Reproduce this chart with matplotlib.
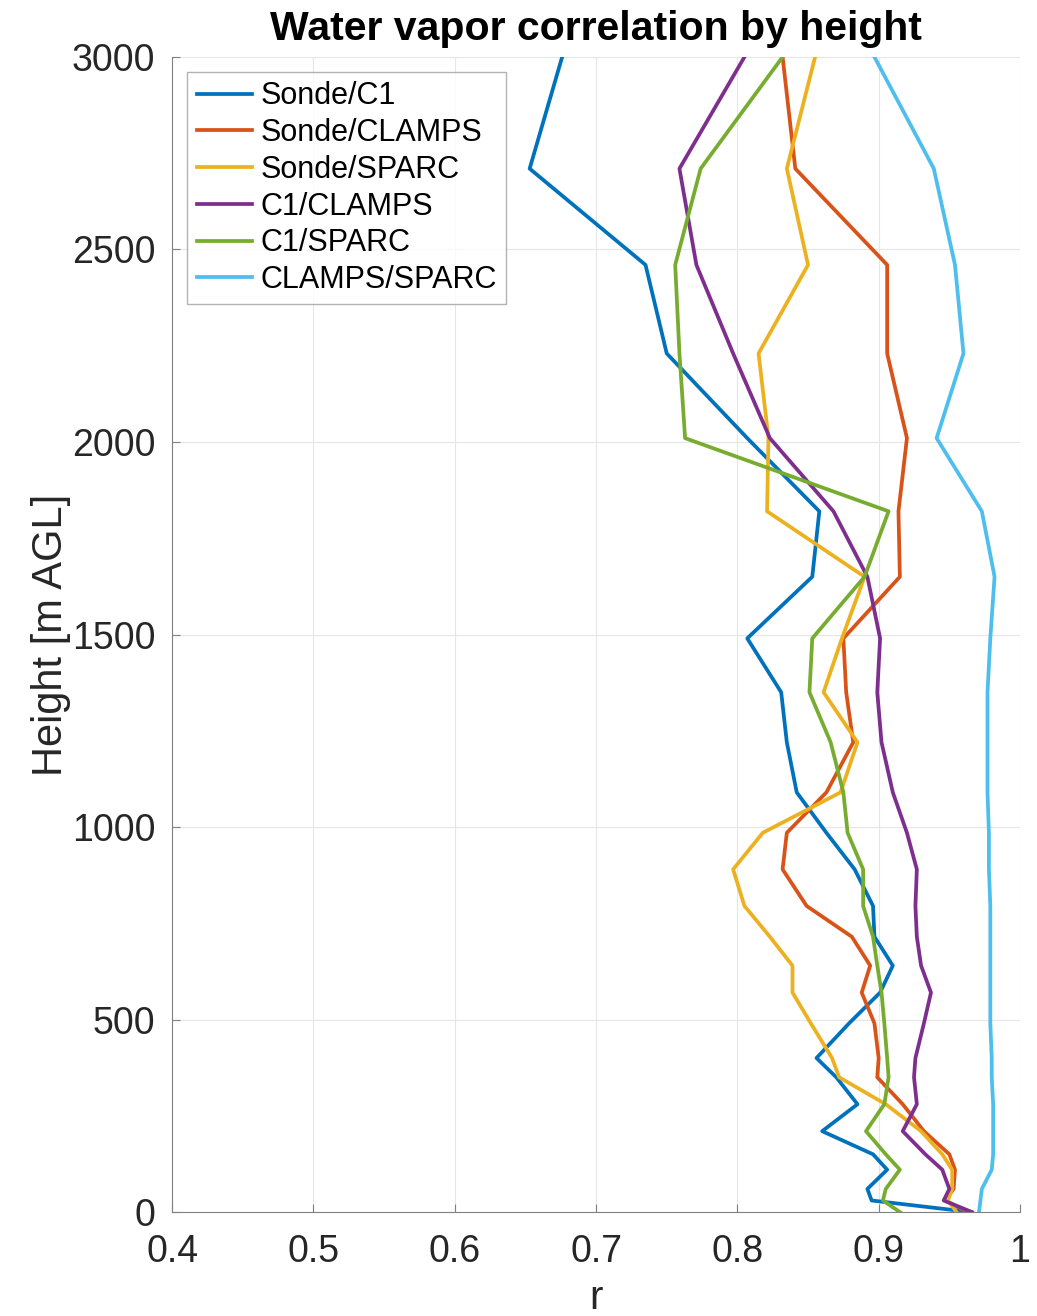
import matplotlib.pyplot as plt

# heights of the retrieval levels [m AGL]
height = [0, 30, 60, 110, 150, 210, 280, 350, 400, 490, 570, 640, 715, 795, 890,
          985, 1090, 1220, 1350, 1490, 1650, 1820, 2010, 2230, 2460, 2710, 3000]

# correlation coefficients
sonde_c1 = [0.965, 0.895, 0.892, 0.906, 0.896, 0.860, 0.885, 0.870, 0.856, 0.879, 0.901,
            0.910, 0.897, 0.896, 0.883, 0.863, 0.842, 0.835, 0.831, 0.807, 0.853, 0.858,
            0.807, 0.750, 0.735, 0.653, 0.676]
sonde_clamps = [0.963, 0.947, 0.953, 0.954, 0.950, 0.932, 0.917, 0.899, 0.900, 0.897, 0.888,
                0.894, 0.881, 0.849, 0.832, 0.835, 0.863, 0.882, 0.877, 0.875, 0.915, 0.914,
                0.920, 0.906, 0.906, 0.841, 0.832]
sonde_sparc = [0.955, 0.949, 0.952, 0.952, 0.945, 0.930, 0.905, 0.872, 0.867, 0.852, 0.839,
               0.839, 0.823, 0.805, 0.797, 0.818, 0.873, 0.885, 0.861, 0.874, 0.890, 0.821,
               0.822, 0.815, 0.850, 0.835, 0.855]
c1_clamps = [0.966, 0.946, 0.950, 0.945, 0.933, 0.917, 0.927, 0.925, 0.926, 0.932, 0.937,
             0.930, 0.927, 0.926, 0.927, 0.920, 0.910, 0.902, 0.899, 0.901, 0.892, 0.868,
             0.823, 0.797, 0.771, 0.759, 0.805]
c1_sparc = [0.915, 0.903, 0.905, 0.915, 0.905, 0.891, 0.904, 0.907, 0.906, 0.904, 0.902,
            0.899, 0.896, 0.889, 0.889, 0.878, 0.875, 0.866, 0.851, 0.853, 0.890, 0.907,
            0.763, 0.759, 0.756, 0.774, 0.832]
clamps_sparc = [0.971, 0.972, 0.973, 0.980, 0.981, 0.981, 0.981, 0.980, 0.980, 0.979, 0.979,
                0.979, 0.979, 0.979, 0.978, 0.978, 0.977, 0.977, 0.977, 0.979, 0.982, 0.973,
                0.941, 0.960, 0.954, 0.939, 0.897]

labels = ['Sonde/C1', 'Sonde/CLAMPS', 'Sonde/SPARC', 'C1/CLAMPS', 'C1/SPARC', 'CLAMPS/SPARC']
colors = ['#0072BD', '#D95319', '#EDB120', '#7E2F8E', '#77AC30', '#4DBEEE']
series = [sonde_c1, sonde_clamps, sonde_sparc, c1_clamps, c1_sparc, clamps_sparc]

plt.rcParams['font.family'] = ['Liberation Sans', 'DejaVu Sans']

fig = plt.figure(figsize=(10.37, 13.16), dpi=100)
ax = fig.add_axes([0.166, 0.079, 0.8176, 0.8777])

for vals, lab, col in zip(series, labels, colors):
    ax.plot(vals, height, color=col, lw=2.7, label=lab)

ax.set_xlim(0.4, 1.0)
ax.set_ylim(0, 3000)
ax.set_xticks([0.4, 0.5, 0.6, 0.7, 0.8, 0.9, 1.0])
ax.set_xticklabels(['0.4', '0.5', '0.6', '0.7', '0.8', '0.9', '1'])
ax.set_yticks([0, 500, 1000, 1500, 2000, 2500, 3000])
ax.grid(True, color='#e6e6e6', lw=0.8)
ax.set_axisbelow(True)
for side in ['top', 'right']:
    ax.spines[side].set_visible(False)
for side in ['left', 'bottom']:
    ax.spines[side].set_color('#808080')
ax.tick_params(direction='in', length=6, colors='#808080', labelcolor='#262626',
               labelsize=27)
ax.tick_params(axis='y', pad=12)
ax.tick_params(axis='x', pad=16)

ax.set_xlabel('r', fontsize=29, color='#262626', labelpad=6)
ax.set_ylabel('Height [m AGL]', fontsize=30, color='#262626', labelpad=1)
ax.set_title('Water vapor correlation by height', fontsize=29.5, fontweight='bold', pad=12)

leg = ax.legend(loc='upper left', fontsize=22, frameon=True, fancybox=False,
                edgecolor='#a0a0a0', handlelength=1.8, handletextpad=0.3,
                labelspacing=0.22, borderpad=0.3, borderaxespad=0.5)
leg.get_frame().set_linewidth(1.0)

fig.savefig('out.png', dpi=100)
